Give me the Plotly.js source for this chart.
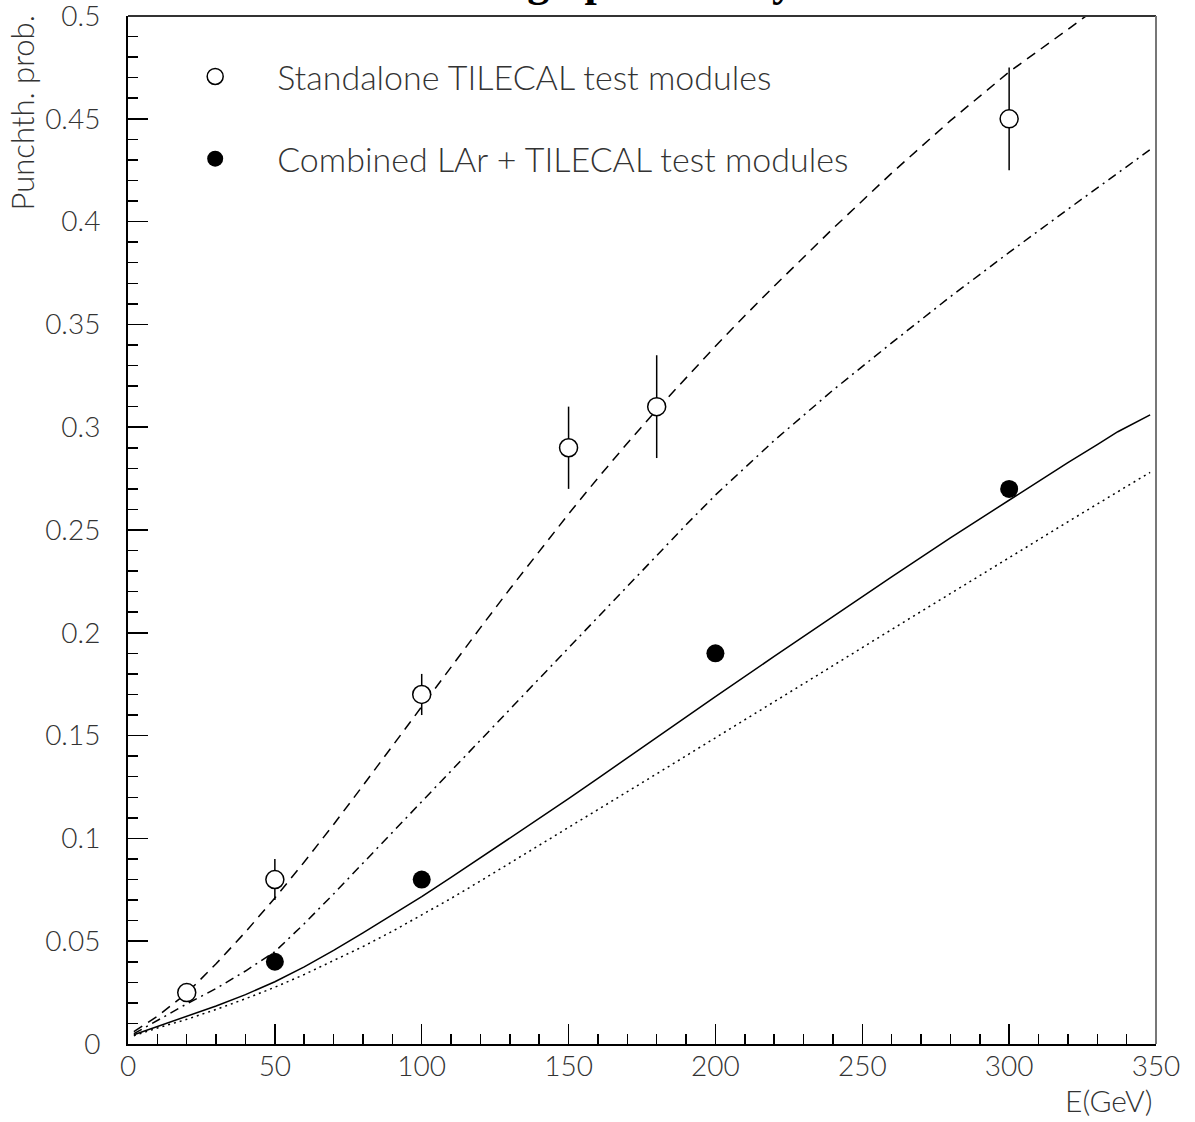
<!DOCTYPE html>
<html>
<head>
<meta charset="utf-8">
<script src="https://cdn.plot.ly/plotly-3.0.1.min.js"></script>
<style>html,body{margin:0;padding:0;background:#fff;}#chart{width:1195px;height:1122px;}</style>
</head>
<body>
<div id="chart"></div>
<script>
// ---- data ----
var standaloneE   = [20, 50, 100, 150, 180, 300];
var standaloneP   = [0.025, 0.08, 0.17, 0.29, 0.31, 0.45];
var standaloneErr = [0.004, 0.01, 0.01, 0.02, 0.025, 0.025];

var combinedE = [50, 100, 200, 300];
var combinedP = [0.04, 0.08, 0.19, 0.27];

var curveDashedE = [2, 10, 20, 30, 40, 50, 60, 70, 80, 90, 100, 110, 120, 130, 140, 150, 160, 170, 180, 190, 200, 210, 220, 240, 260, 280, 300, 320, 330];
var curveDashedP = [0.006, 0.0135, 0.0247, 0.039, 0.0545, 0.071, 0.0885, 0.1068, 0.1257, 0.145, 0.1643, 0.1835, 0.2025, 0.2213, 0.2398, 0.2578, 0.2753, 0.2922, 0.3085, 0.3242, 0.3394, 0.3542, 0.3686, 0.3966, 0.4236, 0.4491, 0.4728, 0.4935, 0.504];

var curveDashDotE = [2, 10, 20, 30, 40, 50, 60, 70, 80, 90, 100, 110, 120, 130, 140, 150, 160, 170, 180, 190, 200, 210, 220, 240, 260, 280, 300, 320, 340, 348];
var curveDashDotP = [0.005, 0.0115, 0.0195, 0.027, 0.0355, 0.0449, 0.0585, 0.073, 0.088, 0.103, 0.118, 0.133, 0.148, 0.163, 0.178, 0.193, 0.2075, 0.2225, 0.2375, 0.2525, 0.267, 0.2805, 0.2935, 0.318, 0.341, 0.3635, 0.385, 0.406, 0.427, 0.435];

var curveSolidE = [2, 10, 20, 30, 40, 50, 60, 70, 80, 90, 100, 110, 120, 130, 140, 150, 160, 170, 180, 190, 200, 220, 240, 260, 280, 300, 320, 330, 337, 348];
var curveSolidP = [0.0045, 0.0085, 0.0133, 0.0185, 0.024, 0.0303, 0.0375, 0.0455, 0.054, 0.0627, 0.0717, 0.081, 0.0905, 0.1, 0.1095, 0.1193, 0.1292, 0.1392, 0.1492, 0.1591, 0.169, 0.1885, 0.208, 0.2272, 0.2462, 0.2646, 0.2828, 0.2915, 0.2978, 0.306];

var curveDottedE = [2, 10, 20, 30, 40, 50, 60, 70, 80, 90, 100, 110, 120, 130, 140, 150, 160, 170, 180, 190, 200, 220, 240, 260, 280, 300, 320, 340, 348];
var curveDottedP = [0.004, 0.0078, 0.012, 0.0168, 0.022, 0.0276, 0.0338, 0.0404, 0.0474, 0.0548, 0.0626, 0.0708, 0.0793, 0.0879, 0.0966, 0.1053, 0.114, 0.1227, 0.1314, 0.1401, 0.1488, 0.1664, 0.184, 0.2016, 0.2192, 0.2366, 0.254, 0.2712, 0.278];

var xTicks = [0, 50, 100, 150, 200, 250, 300, 350];
var yTicks = [0, 0.05, 0.1, 0.15, 0.2, 0.25, 0.3, 0.35, 0.4, 0.45, 0.5];

var titleText = "Punchthrough probability";
var yTitle = "Punchth. prob.";
var xTitle = "E(GeV)";
var legendStandalone = "Standalone TILECAL test modules";
var legendCombined = "Combined LAr + TILECAL test modules";

// ---- styling ----
var fam = "Lato, 'DejaVu Sans', sans-serif";
var tickFont = {family: fam, size: 28, color: "#333", weight: 300};
var legendFont = {family: fam, size: 34, color: "#333", weight: 300};

function curve(xs, ys, dash) {
  return {x: xs, y: ys, type: "scatter", mode: "lines", showlegend: false, hoverinfo: "skip", legendgroup: "z",
          line: {color: "#000", width: 1.5, dash: dash, shape: "linear"}};
}

var traces = [
  curve(curveDottedE, curveDottedP, "2px,4px"),
  curve(curveSolidE, curveSolidP, "solid"),
  curve(curveDashDotE, curveDashDotP, "9px,5px,2px,5px"),
  curve(curveDashedE, curveDashedP, "10px,7px"),
  {x: standaloneE, y: standaloneP, type: "scatter", mode: "markers", name: legendStandalone, legendgroup: "a",
   error_y: {type: "data", array: standaloneErr, visible: true, width: 0, thickness: 1.5, color: "#000"},
   marker: {symbol: "circle", size: 18, color: "#fff", line: {color: "#000", width: 1.5}}},
  {x: combinedE, y: combinedP, type: "scatter", mode: "markers", name: legendCombined, legendgroup: "b",
   marker: {symbol: "circle", size: 18, color: "#000", line: {color: "#000", width: 0}}}
];

var layout = {
  width: 1195, height: 1122,
  margin: {l: 128, r: 39, t: 16, b: 78, pad: 0},
  paper_bgcolor: "#fff", plot_bgcolor: "#fff",
  showlegend: true,
  legend: {x: 0.0245, y: 0.969, xanchor: "left", yanchor: "top", bgcolor: "rgba(0,0,0,0)",
           font: legendFont, itemwidth: 114, tracegroupgap: 35, traceorder: "grouped"},
  xaxis: {range: [0, 350], tickmode: "array", tickvals: xTicks, ticktext: xTicks.map(String),
          ticks: "inside", ticklen: 20, tickwidth: 1.5, tickcolor: "#000",
          minor: {dtick: 10, ticks: "inside", ticklen: 10, tickwidth: 1.5, tickcolor: "#000", showgrid: false},
          showgrid: false, zeroline: false, showline: true, linecolor: "#000", linewidth: 2,
          tickfont: tickFont, ticklabelstandoff: -4, ticklabeloverflow: "allow", fixedrange: true},
  yaxis: {range: [0, 0.5], tickmode: "array", tickvals: yTicks, ticktext: yTicks.map(String),
          ticks: "inside", ticklen: 20, tickwidth: 1.5, tickcolor: "#000",
          minor: {dtick: 0.01, ticks: "inside", ticklen: 10, tickwidth: 1.5, tickcolor: "#000", showgrid: false},
          showgrid: false, zeroline: false, showline: true, linecolor: "#000", linewidth: 2,
          tickfont: tickFont, ticklabelstandoff: 20, ticklabeloverflow: "allow", fixedrange: true},
  shapes: [
    {type: "line", xref: "paper", yref: "paper", x0: 0, x1: 1, y0: 1, y1: 1, line: {color: "#333", width: 2}},
    {type: "line", xref: "paper", yref: "paper", x0: 1, x1: 1, y0: 0, y1: 1, line: {color: "#777", width: 2}}
  ],
  annotations: [
    {text: "<b>" + titleText + "</b>", xref: "paper", yref: "paper", x: 0.1683, y: 1.008,
     xanchor: "left", yanchor: "bottom", showarrow: false,
     font: {family: "'Liberation Serif', 'Times New Roman', serif", size: 44, color: "#000"}},
    {text: yTitle, xref: "paper", yref: "paper", x: -0.1031, y: 1.002, xanchor: "center", yanchor: "top",
     textangle: -90, showarrow: false, font: {family: fam, size: 31, color: "#333", weight: 300}},
    {text: xTitle, xref: "paper", yref: "paper", x: 0.998, y: -0.0545, xanchor: "right", yanchor: "middle",
     showarrow: false, font: {family: fam, size: 30, color: "#333", weight: 300}}
  ]
};

Plotly.newPlot("chart", traces, layout, {staticPlot: true, displayModeBar: false});
</script>
</body>
</html>
